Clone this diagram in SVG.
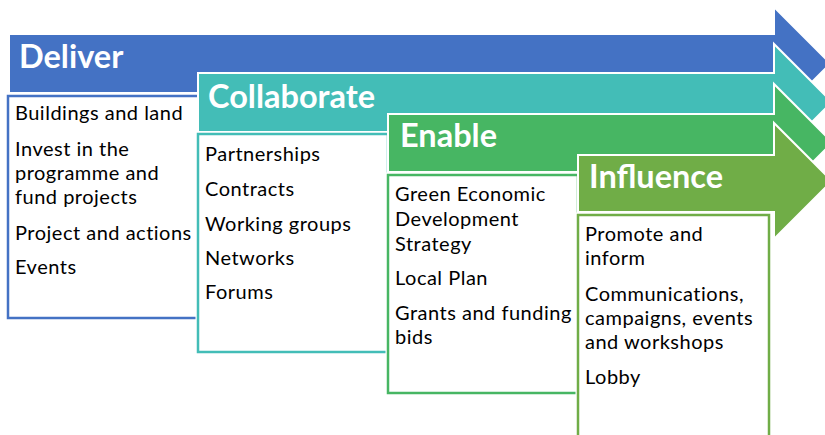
<svg xmlns="http://www.w3.org/2000/svg" width="825" height="435" viewBox="0 0 825 435">
<style>
.arrow{stroke:#fff;stroke-width:2;stroke-linejoin:miter}
.halo{fill:#fff;stroke:#fff;stroke-width:5}
.box{fill:#fff;stroke-width:2.5}
.hd{font-family:Lato,"Open Sans",sans-serif;font-weight:bold;font-size:32.5px;fill:#fff}
.tx{font-family:Lato,"Open Sans",sans-serif;font-size:20px;letter-spacing:0.5px;fill:#000}
</style>
<rect width="825" height="435" fill="#fff"/>
<g id="deliver">
<path class="arrow" fill="#4472C4" d="M9,34 H774 V7 L830.5,63.5 L774,120 V93 H9 Z"/>
<rect class="halo" x="8" y="96" width="192" height="222"/>
<rect class="box" stroke="#4472C4" x="8" y="96" width="192" height="222"/>
<text class="hd" x="19" y="68">Deliver</text>
<text class="tx" x="15" y="120">Buildings and land</text>
<text class="tx" x="15" y="156">Invest in the</text>
<text class="tx" x="15" y="180">programme and</text>
<text class="tx" x="15" y="204">fund projects</text>
<text class="tx" x="15" y="240">Project and actions</text>
<text class="tx" x="15" y="274">Events</text>
</g>
<g id="collaborate">
<path class="arrow" fill="#43BDB7" d="M198,73 H774 V44 L832,102 L774,160 V132 H198 Z"/>
<rect class="halo" x="198" y="134" width="190" height="218"/>
<rect class="box" stroke="#43BDB7" x="198" y="134" width="190" height="218"/>
<text class="hd" x="208" y="108">Collaborate</text>
<text class="tx" x="205" y="161">Partnerships</text>
<text class="tx" x="205" y="196">Contracts</text>
<text class="tx" x="205" y="231">Working groups</text>
<text class="tx" x="205" y="265">Networks</text>
<text class="tx" x="205" y="299">Forums</text>
</g>
<g id="enable">
<path class="arrow" fill="#47B663" d="M388,114 H774 V84 L832.5,142.5 L774,201 V172 H388 Z"/>
<rect class="halo" x="388" y="175" width="190" height="218"/>
<rect class="box" stroke="#47B663" x="388" y="175" width="190" height="218"/>
<text class="hd" x="400" y="147">Enable</text>
<text class="tx" x="395" y="201">Green Economic</text>
<text class="tx" x="395" y="226">Development</text>
<text class="tx" x="395" y="251">Strategy</text>
<text class="tx" x="395" y="285">Local Plan</text>
<text class="tx" x="395" y="320">Grants and funding</text>
<text class="tx" x="395" y="344">bids</text>
</g>
<g id="influence">
<path class="arrow" fill="#70AD47" d="M578,155 H774 V123 L832,181 L774,239 V212 H578 Z"/>
<rect class="halo" x="578" y="215" width="191" height="240"/>
<rect class="box" stroke="#70AD47" x="578" y="215" width="191" height="240"/>
<text class="hd" x="589" y="188">Influence</text>
<text class="tx" x="585" y="241">Promote and</text>
<text class="tx" x="585" y="265">inform</text>
<text class="tx" x="585" y="301">Communications,</text>
<text class="tx" x="585" y="325">campaigns, events</text>
<text class="tx" x="585" y="349">and workshops</text>
<text class="tx" x="585" y="384">Lobby</text>
</g>
<g id="connectors"></g>
</svg>
